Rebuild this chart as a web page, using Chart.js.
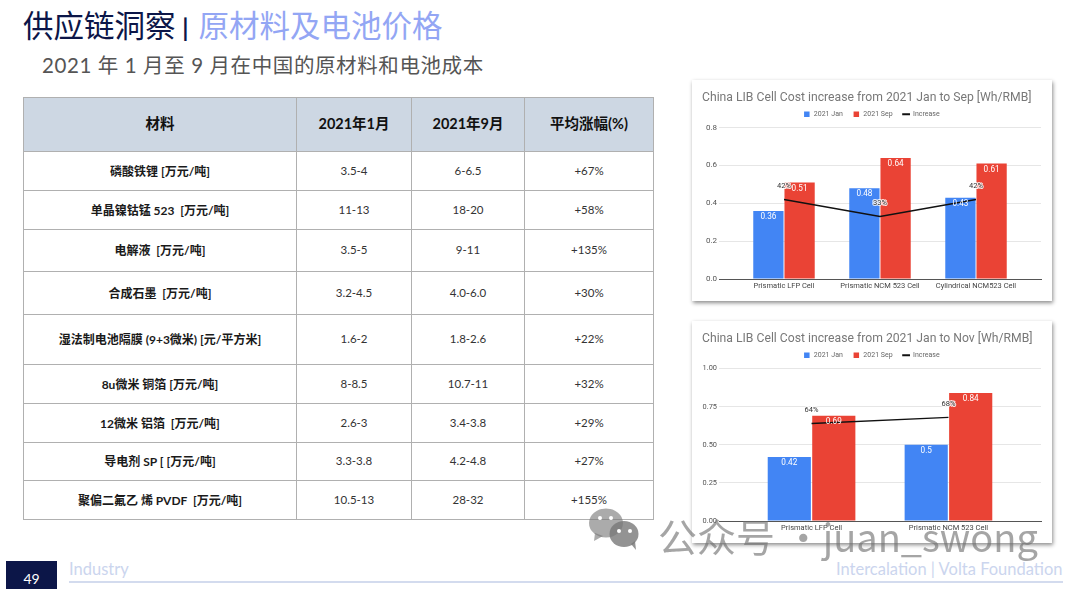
<!DOCTYPE html>
<html>
<head>
<meta charset="utf-8">
<script src="https://cdn.jsdelivr.net/npm/chart.js@4"></script>
<style>
html, body { margin: 0; padding: 0; background: #fff; }
body { width: 1080px; height: 589px; position: relative; overflow: hidden; font-family: Lato, "Noto Sans CJK SC", sans-serif; }
.abs { position: absolute; white-space: nowrap; }
#title { left: 23px; top: 2px; font-size: 30.5px; line-height: 44px; color: #0c1648; font-family: "Noto Sans CJK SC", sans-serif; }
#title span { color: #93a6f4; }
#title b { font-size: 24px; font-weight: 700; padding: 0 4px 0 1px; font-family: Lato, sans-serif; }
#subtitle { left: 42px; top: 50px; font-size: 20.5px; line-height: 30px; color: #555; letter-spacing: .6px; }
table { position: absolute; left: 23px; top: 97px; width: 629.5px; height: 422px; border-collapse: collapse; table-layout: fixed; }
td, th { border: 1.5px solid #b0b0b0; text-align: center; padding: 0 0 2px; font-size: 11.5px; color: #333; white-space: pre; }
th { background: #cdd7e3; font-size: 14.5px; color: #111; font-weight: 700; padding-bottom: 4px; }
td.name { font-weight: 700; color: #1a1a1a; font-size: 12px; }
.card { position: absolute; left: 692px; width: 360px; background: #fff; box-shadow: 1px 2px 4px rgba(0,0,0,.45); }
.card canvas { display: block; filter: blur(.35px); }
#page { left: 6px; top: 561px; width: 51px; height: 28px; background: #0c1648; color: #fff; font-size: 14px; line-height: 36px; text-align: center; }
#rule { left: 69px; top: 581px; width: 994px; height: 2px; background: #d3dbee; }
.foot { top: 558px; font-size: 16.5px; line-height: 22px; color: #cbd5ee; }
#mark { left: 658px; top: 508px; font-size: 39px; line-height: 54px; color: rgba(110,110,110,.62); font-family: "Noto Sans CJK SC", sans-serif; }
#mark span { font-size: 38px; }
#wechat { left: 586px; top: 506px; }
</style>
</head>
<body>
<div class="abs" id="title">供应链洞察<b> | </b><span>原材料及电池价格</span></div>
<div class="abs" id="subtitle">2021 年 1 月至 9 月在中国的原材料和电池成本</div>
<table id="prices"></table>

<div class="card" style="top:80px;height:221px"><canvas id="chartSep" width="360" height="221" style="width:360px;height:221px"></canvas></div>
<div class="card" style="top:321px;height:222px"><canvas id="chartNov" width="360" height="222" style="width:360px;height:222px"></canvas></div>

<div class="abs" id="page">49</div>
<div class="abs foot" style="left:69px">Industry</div>
<div class="abs foot" style="left:836px">Intercalation | Volta Foundation</div>
<div class="abs" id="rule"></div>

<svg class="abs" id="wechat" width="58" height="46" viewBox="0 0 56 46">
  <g fill="rgba(120,120,120,.62)">
    <ellipse cx="19" cy="17" rx="17" ry="14.5"/><path d="M8 27l-1 8 9-5z"/>
  </g>
  <g fill="rgba(120,120,120,.8)">
    <ellipse cx="37" cy="28" rx="14.5" ry="13"/><path d="M44 38l5 6-1-9z"/>
  </g>
  <g fill="#fff"><circle cx="13" cy="12" r="2"/><circle cx="24" cy="12" r="2"/><circle cx="32" cy="25" r="2"/><circle cx="43" cy="25" r="2"/></g>
</svg>
<div class="abs" id="mark">公众号 ·<span>juan_swong</span></div>

<script>
// Tabla de precios
const tableHead = ["材料", "2021年1月", "2021年9月", "平均涨幅(%)"];
const materials = ["磷酸铁锂 [万元/吨]", "单晶镍钴锰 523  [万元/吨]", "电解液  [万元/吨]", "合成石墨  [万元/吨]", "湿法制电池隔膜 (9+3微米) [元/平方米]", "8u微米 铜箔 [万元/吨]", "12微米 铝箔  [万元/吨]", "导电剂 SP [ [万元/吨]", "聚偏二氟乙 烯 PVDF  [万元/吨]"];
const priceJan = ["3.5-4", "11-13", "3.5-5", "3.2-4.5", "1.6-2", "8-8.5", "2.6-3", "3.3-3.8", "10.5-13"];
const priceSep = ["6-6.5", "18-20", "9-11", "4.0-6.0", "1.8-2.6", "10.7-11", "3.4-3.8", "4.2-4.8", "28-32"];
const priceRise = ["+67%", "+58%", "+135%", "+30%", "+22%", "+32%", "+29%", "+27%", "+155%"];
const colWidths = [273, 115, 113, 129];
const rowHeights = [54, 39, 39, 42, 43, 50, 39, 39, 38, 39];

// Datos de los graficos
const seriesNames = ["2021 Jan", "2021 Sep", "Increase"];
const catsSep = ["Prismatic LFP Cell", "Prismatic NCM 523 Cell", "Cylindrical NCM523 Cell"];
const janSep = [0.36, 0.48, 0.43];
const sepSep = [0.51, 0.64, 0.61];
const incSep = [0.42, 0.33, 0.42];
const catsNov = ["Prismatic LFP Cell", "Prismatic NCM 523 Cell"];
const janNov = [0.42, 0.5];
const sepNov = [0.69, 0.84];
const incNov = [0.64, 0.68];

let html = '<colgroup>' + colWidths.map(w => `<col style="width:${w}px">`).join('') + '</colgroup>';
html += `<tr style="height:${rowHeights[0]}px">` + tableHead.map(h => `<th>${h}</th>`).join('') + '</tr>';
materials.forEach((m, i) => {
    html += `<tr style="height:${rowHeights[i + 1]}px"><td class="name">${m}</td><td>${priceJan[i]}</td><td>${priceSep[i]}</td><td>${priceRise[i]}</td></tr>`;
});
document.getElementById("prices").innerHTML = html;

// Etiquetas de valores sobre barras y linea
const valueLabels = {
    id: 'valueLabels',
    afterDatasetsDraw(chart) {
        const c = chart.ctx;
        c.save();
        c.textAlign = 'center';
        c.textBaseline = 'middle';
        chart.data.datasets.forEach((ds, d) => {
            const meta = chart.getDatasetMeta(d);
            meta.data.forEach((el, i) => {
                const v = ds.data[i].y;
                if (ds.type === 'line') {
                    const t = Math.round(v * 100) + '%';
                    c.font = '7.5px Roboto, Arial, sans-serif';
                    c.lineWidth = 2;
                    c.strokeStyle = 'rgba(255,255,255,.85)';
                    c.strokeText(t, el.x, el.y - 13);
                    c.fillStyle = '#333';
                    c.fillText(t, el.x, el.y - 13);
                } else {
                    c.font = '8.2px Roboto, Arial, sans-serif';
                    c.fillStyle = '#fff';
                    c.fillText(String(v), el.x, el.y + 6);
                }
            });
        });
        c.restore();
    }
};

function makeChart(id, titleText, cats, jan, sep, inc, xPad, yMax, yStep, yDigits, yFont) {
    const pts = arr => arr.map((v, i) => ({x: i, y: v}));
    return new Chart(document.getElementById(id), {
        type: 'bar',
        data: {
            datasets: [
                {label: seriesNames[0], data: pts(jan), backgroundColor: '#4285F4', order: 1, barPercentage: 0.97, categoryPercentage: 0.65},
                {label: seriesNames[1], data: pts(sep), backgroundColor: '#EA4335', order: 1, barPercentage: 0.97, categoryPercentage: 0.65},
                {type: 'line', label: seriesNames[2], data: pts(inc), borderColor: '#111', backgroundColor: '#111', borderWidth: 1.4, pointRadius: 0, tension: 0, order: 0}
            ]
        },
        options: {
            responsive: false,
            animation: false,
            layout: {padding: {left: 10, right: 11, top: 0, bottom: 0}},
            plugins: {
                tooltip: {enabled: false},
                title: {
                    display: true, text: titleText, align: 'start', color: '#787878',
                    font: {family: 'Roboto, Arial, sans-serif', size: 12.2, weight: 'normal'},
                    padding: {top: 11, bottom: -5}
                },
                legend: {
                    position: 'top',
                    labels: {
                        usePointStyle: true, boxWidth: 8, boxHeight: 5.5, padding: 10, color: '#666',
                        font: {family: 'Roboto, Arial, sans-serif', size: 7},
                        sort: (a, b) => a.datasetIndex - b.datasetIndex,
                        generateLabels(chart) {
                            return Chart.defaults.plugins.legend.labels.generateLabels(chart).map(l => {
                                l.pointStyle = l.datasetIndex === 2 ? 'line' : 'rect';
                                l.lineWidth = l.datasetIndex === 2 ? 2 : 0;
                                return l;
                            });
                        }
                    }
                }
            },
            scales: {
                x: {
                    type: 'linear', offset: false, min: -0.5 - xPad, max: cats.length - 0.5 + xPad,
                    afterFit(s) { s.height = 22; },
                    grid: {display: false, drawTicks: false},
                    border: {color: '#555', width: 1},
                    ticks: {
                        stepSize: 1, includeBounds: false, autoSkip: false, maxRotation: 0, padding: 3,
                        color: '#444', font: {family: 'Roboto, Arial, sans-serif', size: 7.5},
                        callback: v => cats[v] ?? ''
                    }
                },
                y: {
                    min: 0, max: yMax,
                    afterFit(s) { s.width = 17; },
                    grid: {color: '#e6e6e6', drawTicks: false},
                    border: {display: false},
                    ticks: {
                        stepSize: yStep, padding: 2, color: '#555',
                        font: {family: 'Roboto, Arial, sans-serif', size: yFont},
                        callback: v => v.toFixed(yDigits)
                    }
                }
            }
        },
        plugins: [valueLabels]
    });
}

makeChart('chartSep', 'China LIB Cell Cost increase from 2021 Jan to Sep [Wh/RMB]', catsSep, janSep, sepSep, incSep, 0.177, 0.8, 0.2, 1, 8);
makeChart('chartNov', 'China LIB Cell Cost increase from 2021 Jan to Nov [Wh/RMB]', catsNov, janNov, sepNov, incNov, 0.176, 1, 0.25, 2, 7.4);
</script>
</body>
</html>
